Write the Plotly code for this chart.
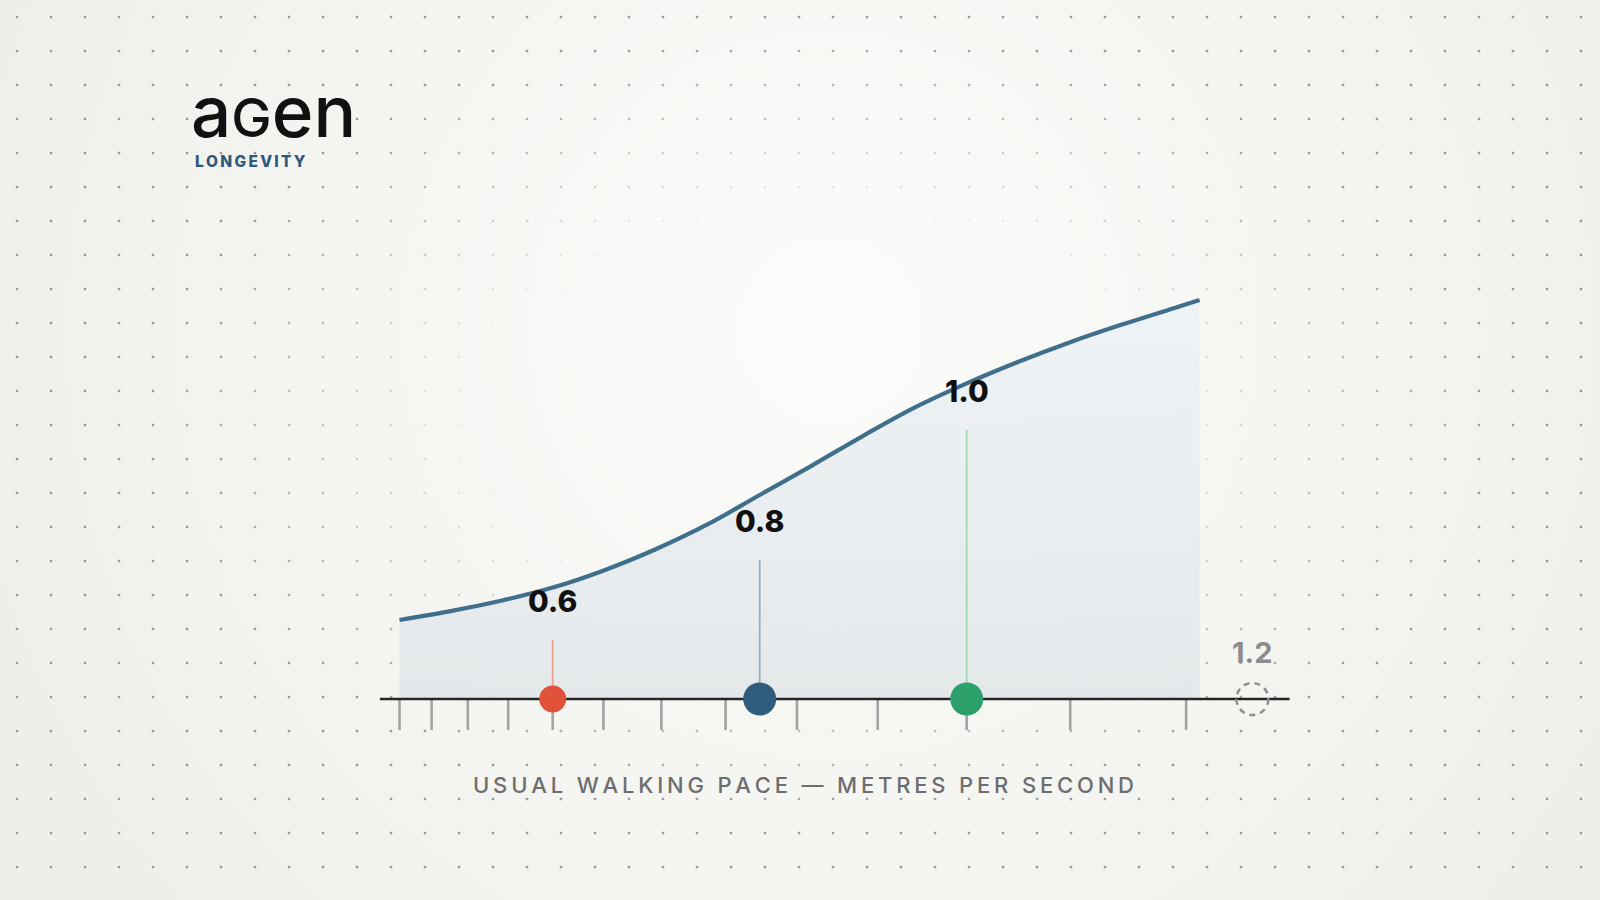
import numpy as np
import plotly.graph_objects as go

# ---------------- data ----------------
pace = [0.452, 0.50, 0.55, 0.60, 0.65, 0.70, 0.75, 0.80, 0.85, 0.90,
        0.95, 1.00, 1.05, 1.10, 1.15, 1.20, 1.225]
curve = [0.1975, 0.219, 0.2455, 0.2785, 0.322, 0.375, 0.437, 0.510, 0.583,
         0.658, 0.729, 0.789, 0.843, 0.892, 0.936, 0.977, 0.9975]

marker_pace = [0.6, 0.8, 1.0]
marker_labels = ["0.6", "0.8", "1.0"]
stem_top = [0.1475, 0.3475, 0.6725]

tick_vals = [0.452, 0.483, 0.518, 0.557, 0.6, 0.649, 0.705, 0.767, 0.836,
             0.914, 1.0, 1.1, 1.212]

ghost_label = "1.2"
ghost_pos = 1.276

axis_span = [0.433, 1.312]

axis_title = "USUAL WALKING PACE — METRES PER SECOND"
brand_parts = ["a", "G", "en"]
brand_sub = "LONGEVITY"

# ---------------- styles ----------------
marker_colors = ["#e0533a", "#2e5c7a", "#2ca06a"]
stem_colors = ["#eca393", "#97b0c2", "#a3d6bb"]
marker_sizes = [27, 33, 33]

W, H = 1600, 900
X_PX_PER_UNIT = 1035.0
X_REF_PX = 552.7          # pixel of pace 0.6
Y_PX_PER_UNIT = 400.0
Y_ZERO_PX = 699.0
FONT = "Inter"


def spaced(s, sep="\u200a"):
    return sep.join(list(s))


x_range = [0.6 - X_REF_PX / X_PX_PER_UNIT, 0.6 + (W - X_REF_PX) / X_PX_PER_UNIT]
y_range = [-(H - Y_ZERO_PX) / Y_PX_PER_UNIT, Y_ZERO_PX / Y_PX_PER_UNIT]

fig = go.Figure()

# background glow (pixel space axes)
fig.add_trace(go.Scatter(
    x=[830], y=[330], mode="markers", xaxis="x", yaxis="y",
    marker=dict(size=1800, color="rgba(255,255,255,0)", opacity=1,
                gradient=dict(type="radial", color="rgba(255,255,255,0.8)"),
                line=dict(width=0)),
    hoverinfo="skip", showlegend=False))

# dot grid
gx, gy = np.meshgrid(np.arange(17, W, 34), np.arange(17, H, 34))
gx = gx.ravel(); gy = gy.ravel()
dn = np.hypot((gx - 820) / 700.0, (gy - 420) / 420.0)
op = np.clip((dn - 0.45) / 0.5, 0, 1) * 0.95
fig.add_trace(go.Scatter(
    x=gx, y=gy, mode="markers", xaxis="x", yaxis="y",
    marker=dict(size=2.4, symbol="square", color="#949494", opacity=op,
                line=dict(width=0)),
    hoverinfo="skip", showlegend=False))

# area + curve
fig.add_trace(go.Scatter(
    x=pace, y=curve, mode="lines", xaxis="x2", yaxis="y2",
    line=dict(color="#3f6f8b", width=4.2, shape="spline", smoothing=1.0),
    fill="tozeroy",
    fillgradient=dict(type="vertical",
                      colorscale=[[0, "rgba(226,231,233,0.9)"],
                                  [1, "rgba(237,242,246,0.9)"]]),
    hoverinfo="skip", showlegend=False))

# ticks
tick_len = 31 / Y_PX_PER_UNIT
tx, ty = [], []
for t in tick_vals:
    tx += [t, t, None]
    ty += [0, -tick_len, None]
fig.add_trace(go.Scatter(x=tx, y=ty, mode="lines", xaxis="x2", yaxis="y2",
                         line=dict(color="#a3a3a3", width=2.6),
                         hoverinfo="skip", showlegend=False))

# axis line
fig.add_trace(go.Scatter(x=axis_span, y=[0, 0], mode="lines", xaxis="x2", yaxis="y2",
                         line=dict(color="#262626", width=2.3),
                         hoverinfo="skip", showlegend=False))

# stems
for xp, top, c in zip(marker_pace, stem_top, stem_colors):
    fig.add_trace(go.Scatter(x=[xp, xp], y=[0, top], mode="lines",
                             xaxis="x2", yaxis="y2",
                             line=dict(color=c, width=1.8),
                             hoverinfo="skip", showlegend=False))

# markers
fig.add_trace(go.Scatter(x=marker_pace, y=[0] * len(marker_pace), mode="markers",
                         xaxis="x2", yaxis="y2",
                         marker=dict(size=marker_sizes, color=marker_colors,
                                     opacity=1, line=dict(width=0)),
                         hoverinfo="skip", showlegend=False))

annotations = []
for xp, top, lab in zip(marker_pace, stem_top, marker_labels):
    annotations.append(dict(x=xp, y=top, xref="x2", yref="y2", text=lab,
                            showarrow=False, yshift=39, xanchor="center",
                            yanchor="middle",
                            font=dict(family=FONT, size=30, color="#111111",
                                      weight=800)))

annotations.append(dict(x=ghost_pos, y=0, xref="x2", yref="y2", text=ghost_label,
                        showarrow=False, yshift=47, xanchor="center",
                        yanchor="middle",
                        font=dict(family=FONT, size=29, color="#8c8c8c",
                                  weight=700)))

annotations.append(dict(x=803.6, y=785, xref="x", yref="y",
                        text=spaced(axis_title, "\u200a\u200a"),
                        showarrow=False, xanchor="center", yanchor="middle",
                        font=dict(family=FONT, size=22, color="#6d6d70",
                                  weight=500)))

brand_text = (brand_parts[0]
              + '<span style="font-size:54px">' + brand_parts[1] + '</span>'
              + brand_parts[2])
annotations.append(dict(x=189, y=111, xref="x", yref="y", text=brand_text,
                        showarrow=False, xanchor="left", yanchor="middle",
                        font=dict(family=FONT, size=71, color="#111111",
                                  weight=500)))
annotations.append(dict(x=193, y=161, xref="x", yref="y",
                        text=spaced(brand_sub, "\u2009"),
                        showarrow=False, xanchor="left", yanchor="middle",
                        font=dict(family=FONT, size=15.5, color="#2c5a7c",
                                  weight=800)))

shapes = [dict(type="circle", xref="x2", yref="y2",
               xsizemode="pixel", ysizemode="pixel",
               xanchor=ghost_pos, yanchor=0,
               x0=-16, x1=16, y0=-16, y1=16,
               line=dict(color="#8d8d8d", width=2.5, dash="6px,5px"),
               fillcolor="rgba(0,0,0,0)", layer="above")]

fig.update_layout(
    width=W, height=H, autosize=False,
    margin=dict(l=0, r=0, t=0, b=0),
    paper_bgcolor="#efefea", plot_bgcolor="rgba(0,0,0,0)",
    showlegend=False,
    xaxis=dict(domain=[0, 1], range=[0, W], visible=False, fixedrange=True),
    yaxis=dict(domain=[0, 1], range=[H, 0], visible=False, fixedrange=True),
    xaxis2=dict(overlaying="x", range=x_range, visible=False, fixedrange=True),
    yaxis2=dict(overlaying="y", range=y_range, visible=False, fixedrange=True),
    annotations=annotations, shapes=shapes,
)

fig.write_html("out.html", config={"displayModeBar": False},
               post_script="document.body.style.margin='0';document.body.style.overflow='hidden';")
